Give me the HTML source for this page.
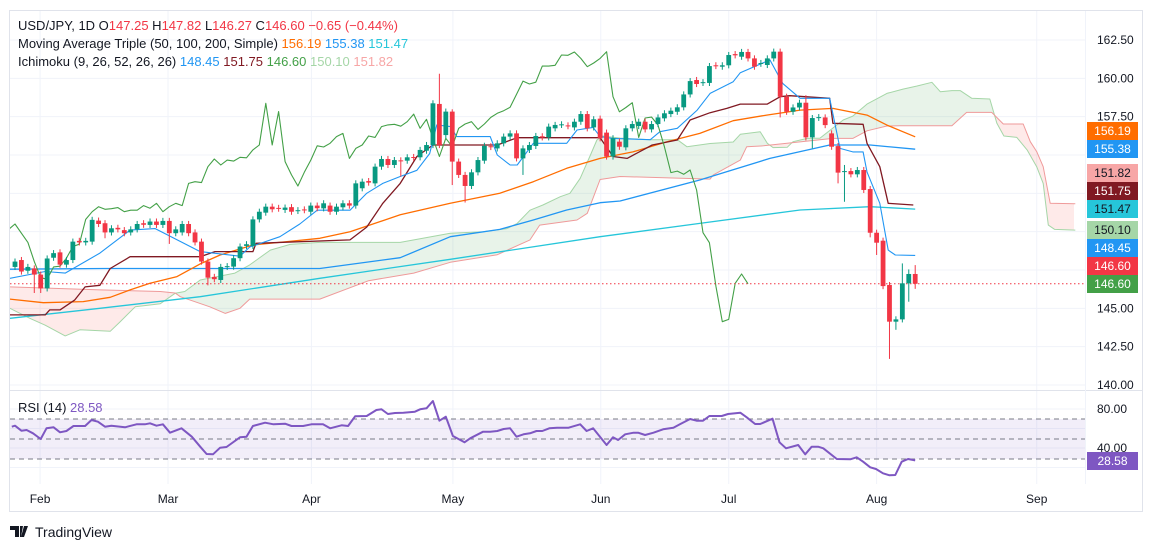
<!DOCTYPE html>
<html><head><meta charset="utf-8"><style>
html,body{margin:0;padding:0;background:#fff;width:1153px;height:550px;overflow:hidden;font-family:"Liberation Sans",sans-serif}
svg{display:block}
</style></head><body>
<svg id="c" width="1153" height="550" xmlns="http://www.w3.org/2000/svg"></svg>
<script>
const opens=[147.7,148.15,147.45,147.6,147.2,146.3,148.3,148.65,147.85,148.15,149.4,149.3,149.35,150.72,150.55,149.95,150.25,150.1,149.95,150.15,150.55,150.44,150.66,150.44,150.7,149.9,149.95,150.5,149.95,149.35,148.05,147.05,146.85,147.7,147.72,148.27,149.07,149.07,150.8,151.24,151.63,151.55,151.42,151.6,151.35,151.45,151.3,151.7,
151.52,151.7,151.3,151.59,151.85,151.7,152.83,153.3,153.15,154.24,154.74,154.35,154.65,154.63,154.87,154.85,155.28,155.65,158.33,156.3,157.83,154.57,153.7,152.98,153.87,154.63,155.57,155.43,155.76,156.2,156.41,154.78,155.33,155.59,156.22,156.15,156.74,156.96,156.93,156.8,157.17,157.67,156.8,157.37,156.46,154.9,155.87,
155.5,156.74,156.89,157.17,156.67,157.02,157.39,157.67,157.82,158.11,158.95,159.89,159.7,159.7,160.85,160.76,160.85,161.58,161.41,161.72,161.3,160.95,160.87,161.3,161.74,158.8,157.82,158.1,158.41,156.15,157.42,157.45,156.41,155.58,153.9,153.95,153.74,154.02,152.78,149.93,149.41,146.52,144.13,144.28,146.63,147.24];
const closes=[148.05,147.4,147.7,147.2,146.3,148.25,148.6,147.85,148.15,149.35,149.3,149.4,150.77,150.5,149.95,150.22,150.15,149.9,150.15,150.5,150.45,150.66,150.44,150.7,149.9,150.15,150.5,149.9,149.3,148.05,147.0,146.9,147.7,147.75,148.27,149.03,149.18,150.8,151.3,151.63,151.46,151.5,151.57,151.3,151.4,151.4,151.7,151.53,
151.85,151.3,151.63,151.85,151.7,153.15,153.26,153.2,154.24,154.74,154.35,154.67,154.6,154.85,154.82,155.33,155.65,158.37,155.65,157.83,154.57,153.7,152.98,153.87,154.67,155.6,155.52,155.76,156.2,156.41,154.78,155.43,155.65,156.24,156.15,156.85,156.96,157.0,156.88,157.17,157.67,156.74,157.33,156.09,154.9,156.09,155.54,
156.74,157.02,157.17,156.67,157.02,157.45,157.72,157.89,158.11,158.95,159.82,159.63,159.75,160.8,160.8,160.85,161.52,161.5,161.72,161.3,160.76,161.0,161.3,161.74,158.8,157.82,158.1,158.41,156.15,157.41,157.47,156.95,155.54,153.85,153.95,153.74,154.02,152.72,149.93,149.28,146.45,144.13,144.28,146.63,147.24,146.6];
const wickHighs={66:160.3,68:157.98,123:158.9,129:154.35,138:147.93,139:147.54,140:147.82};
const wickLows={3:146.0,4:146.0,14:149.57,24:149.2,30:146.5,60:153.6,68:153.04,70:151.9,79:153.7,119:157.45,124:155.43,128:153.15,129:151.95,133:149.63,134:148.48,136:141.7,137:143.6,139:145.43,140:146.27};
const sma50Idx=[-0.8,4.4,10.6,14.8,17.9,21,25.2,28.8,31.9,37,42.3,47.4,52.1,59.9,67.7,75.4,80.6,85.8,91,96.1,101.4,106.5,111.7,116.9,122.1,127.2,132.5,135.6,140];
const sma50Val=[145.6,145.37,145.44,145.72,146.2,146.63,147.07,147.9,148.48,149.13,149.35,149.57,150.0,151.1,151.85,152.5,153.26,154.13,154.78,155.2,155.87,156.41,157.24,157.6,157.93,158.04,157.6,156.95,156.19];
const sma100Idx=[-0.8,14,47.4,59.9,67.7,75.4,80.6,85.8,91,94.1,106.5,117.4,126.7,133,140];
const sma100Val=[147.55,147.6,147.6,148.3,149.67,150.15,150.76,151.41,151.89,152.0,153.37,154.78,155.65,155.65,155.38];
const sma200Idx=[-0.8,13.2,28.8,47.4,67.7,91,106.5,122.1,133,140];
const sma200Val=[144.35,145.0,145.76,146.96,148.2,149.67,150.54,151.41,151.63,151.47];
const tenkanIdx=[-0.8,4.7,7.8,13.2,17.9,21.8,28.8,35,36.5,41.2,44.3,47,52.1,54.7,57.2,59.9,62.5,64.5,65.6,67.7,68.7,73.9,75,77,78.1,80.6,85.8,87.4,89.9,91,93,98.8,100.3,103,106.1,108.1,111.7,112.8,117.4,119.4,122.1,126.7,128.3,130.3,131.9,132.5,134.5,135.8,136.9,140];
const tenkanVal=[146.96,147.4,147.3,148.6,150.1,150.2,148.7,148.4,149.0,149.67,150.5,151.4,151.4,152.5,153.15,153.6,154.0,155.1,156.96,156.85,156.2,156.2,155.0,154.35,154.35,155.76,155.76,156.63,156.8,156.2,156.08,156.0,156.52,156.74,157.93,159.02,159.78,160.37,161.2,159.67,158.7,158.7,155.43,155.2,155.2,153.9,151.85,148.8,148.48,148.45];
const kijunIdx=[-0.8,4.7,5.4,7,9.3,10.9,13.2,14.8,17.9,28.8,31.1,37,37.5,52.1,54.7,57.2,59.9,62.5,65,75,78.1,91,93,95.2,99.1,103,105,108.1,110.7,112.8,117,119,120.5,126.7,127.2,131.9,132.5,134.5,135.8,139.7];
const kijunVal=[144.57,144.57,144.9,144.9,145.55,146.4,146.5,147.6,148.37,148.37,148.7,148.7,149.24,149.46,150.3,151.85,153.15,154.9,155.65,155.65,156.13,156.13,154.9,154.78,155.65,155.98,157.28,157.76,158.04,158.32,158.32,158.8,158.87,158.7,157.07,157.0,155.76,154.24,151.85,151.74];
const spanAIdx=[-0.8,2.3,4.7,7.8,10.1,14.8,16.3,18.7,22.6,24.9,26.4,28.8,34.2,36.5,39.7,42.8,47.4,59.9,67.7,72.8,76.5,78.1,80.1,82.1,84.8,86.3,87.9,89.4,90.5,91.4,94.1,98.8,103,104.5,108.1,111.7,112.8,115.9,117,117.9,120.1,121,123.2,125.2,128.8,130.3,132.5,135.6,138.1,140.3,142.6,143.9,145.7,147,148.8,151.6,152.7,153.8,155.8,157.4,158.9,159.9,160.7,161.7,164.9];
const spanAVal=[145.0,144.35,143.9,143.2,143.6,143.5,144.1,145.1,145.3,145.98,146.1,146.85,147.3,147.83,148.8,149.17,149.3,149.3,149.9,150.0,150.2,150.54,151.4,151.74,152.28,152.5,153.48,154.9,155.98,156.24,156.1,156.0,156.0,155.54,155.75,155.85,156.35,156.52,155.76,155.48,155.5,155.87,156.08,156.1,157.28,157.54,158.32,159.02,159.3,159.5,159.74,159.13,159.2,159.2,158.7,158.65,157.07,156.24,156.15,155.33,154.24,153.15,150.43,150.15,150.1];
const spanBIdx=[-0.8,13.2,22.6,24.9,25.7,30.3,32.7,35,36.5,47.4,55,62,67.7,75,80.1,81.6,87.4,89,91,94.1,108.1,108.6,112.8,113.8,116.4,127.2,130.3,132.5,135.6,137.6,145.7,148,151.9,153.7,156.8,157.9,158.9,159.9,161,164.9];
const spanBVal=[146.4,146.2,146.1,146.0,145.76,145.1,144.67,145.0,145.6,145.6,146.8,147.3,148.0,148.5,149.46,150.43,150.76,151.2,153.4,153.6,153.43,153.7,154.67,155.54,155.6,156.08,156.08,156.58,156.89,156.91,156.91,157.78,157.78,157.02,157.02,155.87,155.22,154.24,151.85,151.82];
const rsiIdx=[-0.5,0,1,1.8,2.8,4,4.9,6,7,8,9.1,10.9,11.9,12.9,14,15,17.1,18.9,20.2,21,22,23,24.1,25.9,27.5,28.8,29.8,30.8,31.9,32.9,35,36,37,38.9,40.2,42,43,44.8,46.1,47.9,49,50.8,51.8,52.9,54.7,56.2,57,58,59.1,60.4,62.2,63,64,65,66,67,68.1,69.9,70.8,72.8,73.9,75,76,77,78,79.1,80.1,81.1,82,83.1,84.3,86.1,87.9,88.9,89.9,92,93,93.8,94.9,96.2,96.9,98,99.3,100.8,102.4,103.4,105,106,107,108,109.9,110.9,112.8,113.8,115.1,115.9,117.8,118.9,119.9,121.8,122.9,123.9,124.9,125.7,127.8,129.9,130.9,131.9,133,133.9,135,136,136.9,137.9,138.9,140];
const rsiVal=[62.3,63.3,58.3,59,55.7,50,60.7,61.7,56.7,58,63,63,69,67.3,62.3,63.3,61.7,64.7,64.7,65.7,63.3,64.7,56.3,60.7,52.3,42.3,35,34.7,41.3,42,51.7,52.3,63,66.3,64.7,65.3,63,63,64.7,64.7,60.7,63.7,63,72.7,73,79,79.7,75,76,76.3,77.3,79.7,80.7,88,68.3,72.3,53,46.7,50.7,57.3,57.3,58,60,60.7,52.3,54.7,55.7,58,58,60.7,61.3,61.3,64.7,58,60.7,44,51.7,49,54.7,56.3,56.3,54,56.3,59.7,61.3,64.7,70,68.3,68.3,73,73,75,76.3,71.7,65,65,70.3,46.7,40.7,44,34.7,42.3,42.3,40.7,30,29.7,31.7,27.3,21.7,20,15.7,13.7,14,27.3,30,28.58];
const priceTicks=[162.5,160,157.5,145,142.5,140];
const gridPrices=[162.5,160,157.5,155,152.5,150,147.5,145,142.5,140];
const monthLabels=["Feb","Mar","Apr","May","Jun","Jul","Aug","Sep"];
const monthIdx=[3.9,23.8,46.1,68.1,91.1,111.0,134.0,158.9];

const NS="http://www.w3.org/2000/svg";
const svg=document.getElementById('c');
const X=i=>15+i*6.43;
const Y=p=>40+(162.5-p)*15.333;
const RY=v=>419+(70-v);
function el(tag,attrs,parent){const e=document.createElementNS(NS,tag);for(const k in attrs)e.setAttribute(k,attrs[k]);(parent||svg).appendChild(e);return e;}
function pts(ix,vals,f){return ix.map((i,k)=>X(i).toFixed(1)+','+f(vals[k]).toFixed(1)).join(' ');}
function interp(ix,vals,i){if(i<=ix[0])return vals[0];for(let k=1;k<ix.length;k++){if(i<=ix[k]){const t=(i-ix[k-1])/(ix[k]-ix[k-1]);return vals[k-1]+t*(vals[k]-vals[k-1]);}}return vals[vals.length-1];}

let r=el('rect',{x:9.5,y:10.5,width:1133,height:501,fill:'#fff',stroke:'#e0e3eb'});


const defs=el('defs',{});
const cp=el('clipPath',{id:'cm'},defs);el('rect',{x:10,y:11,width:1075,height:379},cp);
const cr=el('clipPath',{id:'cr'},defs);el('rect',{x:10,y:392,width:1075,height:92},cr);

const grid=el('g',{stroke:'#f0f3fa','stroke-width':1});


gridPrices.forEach(p=>el('line',{x1:10,x2:1085,y1:Y(p),y2:Y(p)},grid));
[409,428.5,448,467.5].forEach(y=>el('line',{x1:10,x2:1085,y1:y,y2:y},grid));
monthIdx.forEach(i=>el('line',{x1:X(i),x2:X(i),y1:11,y2:484},grid));

const main=el('g',{'clip-path':'url(#cm)'});


// cloud fill: merge runs of same sign into single polygons
const cloud=el('g',{},main);


(function(){const step=0.25;let run=null;const runs=[];
 for(let i=-0.8;i<=164.9+1e-9;i+=step){const a=interp(spanAIdx,spanAVal,i),b=interp(spanBIdx,spanBVal,i);const s=a>=b;
  if(!run||run.s!==s){if(run){run.pts.push([i,a,b]);runs.push(run);}run={s:s,pts:[]};}
  run.pts.push([i,a,b]);}
 if(run)runs.push(run);
 runs.forEach(rn=>{const top=rn.pts.map(p=>X(p[0]).toFixed(1)+','+Y(p[1]).toFixed(1));const bot=rn.pts.slice().reverse().map(p=>X(p[0]).toFixed(1)+','+Y(p[2]).toFixed(1));
  el('polygon',{points:top.concat(bot).join(' '),fill:rn.s?'rgba(67,160,71,0.12)':'rgba(244,67,54,0.11)'},cloud);});
})();
function line(ix,vals,color,name,w){const l=el('polyline',{points:pts(ix,vals,Y),fill:'none',stroke:color,'stroke-width':w||1.3,'stroke-linejoin':'round'},main);}
line(spanAIdx,spanAVal,'#a5d6a7','senkou-span-a',1);
line(spanBIdx,spanBVal,'#ef9a9a','senkou-span-b',1);
line(sma200Idx,sma200Val,'#26c6da','sma-200');
line(sma100Idx,sma100Val,'#2196f3','sma-100');
line(sma50Idx,sma50Val,'#ff6d00','sma-50');
line(kijunIdx,kijunVal,'#801922','kijun-sen');
line(tenkanIdx,tenkanVal,'#2196f3','tenkan-sen',1.1);
const chIdx=[],chVal=[];closes.forEach((c,k)=>{if(k-26>=-1){chIdx.push(k-26);chVal.push(c);}});
line(chIdx,chVal,'#43a047','chikou-span',1.1);
let pl=el('line',{x1:10,x2:1085,y1:Y(closes[closes.length-1]),y2:Y(closes[closes.length-1]),stroke:'#f23645','stroke-dasharray':'1.5 2.5','stroke-width':1},main);


const cg=el('g',{},main);


opens.forEach((o,i)=>{const c=closes[i];const up=c>=o;const col=up?'#089981':'#f23645';
 const h=wickHighs[i]!==undefined?wickHighs[i]:Math.max(o,c)+0.2;const l=wickLows[i]!==undefined?wickLows[i]:Math.min(o,c)-0.2;
 const x=X(i);
 const w=el('line',{x1:x,x2:x,y1:Y(h),y2:Y(l),stroke:col,'stroke-width':1},cg);
 
 
 const top=Y(Math.max(o,c)),bot=Y(Math.min(o,c));
 const b=el('rect',{x:x-2.4,y:top,width:4.8,height:Math.max(1,bot-top),fill:col},cg);
 
 });

el('line',{x1:10,x2:1143,y1:390.5,y2:390.5,stroke:'#e0e3eb'});
el('line',{x1:1085.5,x2:1085.5,y1:11,y2:484,stroke:'#f0f3fa'});
const rg=el('g',{'clip-path':'url(#cr)'});


el('rect',{x:10,y:RY(70),width:1075,height:RY(30)-RY(70),fill:'rgba(126,87,194,0.1)'},rg);
[70,50,30].forEach(v=>el('line',{x1:10,x2:1085,y1:RY(v),y2:RY(v),stroke:'#787b86','stroke-dasharray':'5 4','stroke-width':1},rg));
let rl=el('polyline',{points:pts(rsiIdx,rsiVal,RY),fill:'none',stroke:'#7e57c2','stroke-width':2,'stroke-linejoin':'round'},rg);



function txt(x,y,s,attrs,name){const t=el('text',Object.assign({x:x,y:y,'font-size':12,fill:'#131722'},attrs||{}));t.textContent=s;return t;}
priceTicks.forEach(p=>txt(1097,Y(p)+4,p.toFixed(2),{fill:'#131722'},'price-tick'));
txt(1097,413,'80.00',{},'rsi-tick');
txt(1097,452,'40.00',{},'rsi-tick');
monthLabels.forEach((m,k)=>txt(X(monthIdx[k]),503,m,{'text-anchor':'middle'},'month-label'));
const tags=[['156.19','#ff6d00','#fff',122],['155.38','#2196f3','#fff',140],['151.82','#f7a6a6','#131722',164],['151.75','#801922','#fff',182],['151.47','#26c6da','#131722',200],['150.10','#a5d6a7','#131722',221],['148.45','#2196f3','#fff',239],['146.60','#f23645','#fff',257],['146.60','#43a047','#fff',275],['28.58','#7e57c2','#fff',452]];
tags.forEach(t=>{const g=el('g',{});
 el('rect',{x:1087,y:t[3],width:51,height:18,fill:t[1]},g);
 const tx=el('text',{x:1112.5,y:t[3]+13,'font-size':12,'text-anchor':'middle',fill:t[2]},g);tx.textContent=t[0];});
const hd=[[[ 'USD/JPY, 1D  O','#131722'],['147.25','#f23645'],['  H','#131722'],['147.82','#f23645'],['  L','#131722'],['146.27','#f23645'],['  C','#131722'],['146.60','#f23645'],['  −0.65 (−0.44%)','#f23645']],
[['Moving Average Triple (50, 100, 200, Simple)  ','#131722'],['156.19','#ff6d00'],['  155.38','#2196f3'],['  151.47','#26c6da']],
[['Ichimoku (9, 26, 52, 26, 26)  ','#131722'],['148.45','#2196f3'],['  151.75','#801922'],['  146.60','#43a047'],['  150.10','#a5d6a7'],['  151.82','#f7a6a6']]];
hd.forEach((row,k)=>{const t=el('text',{x:18,y:30+k*18,'font-size':13,'xml:space':'preserve'});
 row.forEach(s=>{const sp=el('tspan',{fill:s[1]},t);sp.textContent=s[0];});});
txt(18,412,'RSI (14)',{'font-size':13},'rsi-legend');
txt(70,412,'28.58',{'font-size':13,fill:'#7e57c2'},'rsi-legend-value');
const lg=el('g',{});
el('path',{d:'M10 526h9v11h-4v-7h-5z M20 526h3l-2 11h-1z M24 526h4l-4 11h-3z',fill:'#131722'},lg);
const lt=el('text',{x:35,y:537,'font-size':14,fill:'#131722'},lg);lt.textContent='TradingView';
</script>
</body></html>
